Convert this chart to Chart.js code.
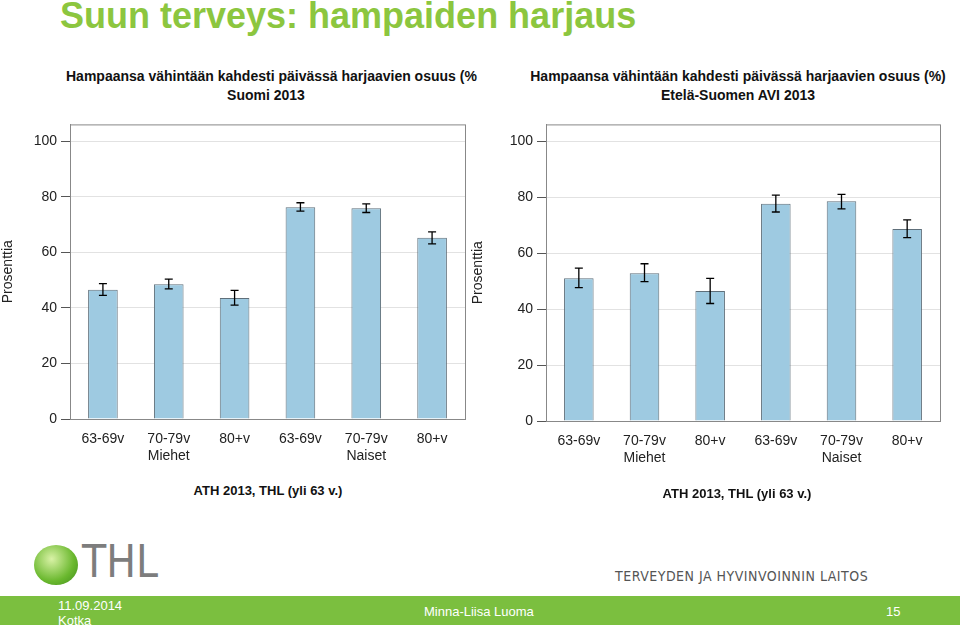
<!DOCTYPE html>
<html><head><meta charset="utf-8">
<script src="https://cdn.jsdelivr.net/npm/chart.js@4/dist/chart.umd.min.js"></script>
<style>
body{margin:0;width:960px;height:625px;overflow:hidden;background:#fff;font-family:"Liberation Sans",Arial,sans-serif;position:relative}
#title{position:absolute;left:60px;top:-5px;font-size:36px;font-weight:bold;color:#8cc63f;line-height:42px}
.c{position:absolute}
.t{position:absolute;font-size:14px;font-weight:bold;text-align:center;line-height:19px;white-space:nowrap;color:#111}
.s{position:absolute;font-size:13px;font-weight:bold;text-align:center;white-space:nowrap;color:#111}
#footer{position:absolute;left:0;top:596px;width:960px;height:29px;background:#7bbf3f;color:#fff;font-size:13px}
</style></head><body>
<div id="title">Suun terveys: hampaiden harjaus</div>
<div class="t" style="left:66px;width:400px;top:67px">Hampaansa vähintään kahdesti päivässä harjaavien osuus (%<br>Suomi 2013</div>
<div class="t" style="left:520px;width:436px;top:67px">Hampaansa vähintään kahdesti päivässä harjaavien osuus (%)<br>Etelä-Suomen AVI 2013</div>
<div class="c" style="left:0;top:112px;width:475px;height:367px"><canvas id="c1"></canvas></div>
<div class="c" style="left:470px;top:112px;width:480px;height:369px"><canvas id="c2"></canvas></div>
<div class="s" style="left:168px;width:200px;top:483px">ATH 2013, THL (yli 63 v.)</div>
<div class="s" style="left:637px;width:200px;top:486px">ATH 2013, THL (yli 63 v.)</div>
<div style="position:absolute;left:34px;top:545px;width:44px;height:40px;border-radius:50%;background:radial-gradient(circle at 40% 35%,#d9f2a6,#6ab82e 60%,#3d8a1a)"></div>
<div style="position:absolute;left:82px;top:536px;font-size:44px;color:#7d7d7d;font-family:'DejaVu Sans Condensed','Liberation Sans Narrow',sans-serif">THL</div>
<div style="position:absolute;left:615px;top:568px;font-size:14px;color:#555;letter-spacing:0.5px;font-family:'DejaVu Sans Condensed',sans-serif">TERVEYDEN JA HYVINVOINNIN LAITOS</div>
<div id="footer">
<div style="position:absolute;left:58px;top:2px;line-height:15px">11.09.2014<br>Kotka</div>
<div style="position:absolute;left:424px;top:8px">Minna-Liisa Luoma</div>
<div style="position:absolute;left:886px;top:8px">15</div>
</div>
<script>
const labels = [['63-69v',''],['70-79v','Miehet'],['80+v',''],['63-69v',''],['70-79v','Naiset'],['80+v','']];
const yTicks = [0, 20, 40, 60, 80, 100];
const suomiValues = [46.5, 48.5, 43.5, 76.2, 75.8, 65.2];
const suomiLow = [44.5, 46.8, 41.0, 74.8, 74.3, 63.0];
const suomiHigh = [48.7, 50.3, 46.3, 77.8, 77.4, 67.3];
const avcValues = [51.0, 52.8, 46.5, 77.6, 78.5, 68.6];
const avcLow = [47.7, 49.8, 42.0, 74.7, 75.8, 65.5];
const avcHigh = [54.6, 56.2, 51.0, 80.7, 81.0, 71.9];

const errorBars = {
  id: 'errorBars',
  afterDatasetsDraw(chart, args, opts) {
    const ctx = chart.ctx, y = chart.scales.y;
    const meta = chart.getDatasetMeta(0);
    ctx.save();
    ctx.strokeStyle = '#000'; ctx.lineWidth = 1.3;
    meta.data.forEach((bar, i) => {
      const x = bar.x, lo = y.getPixelForValue(opts.low[i]), hi = y.getPixelForValue(opts.high[i]);
      ctx.beginPath();
      ctx.moveTo(x, lo); ctx.lineTo(x, hi);
      ctx.moveTo(x - 4, lo); ctx.lineTo(x + 4, lo);
      ctx.moveTo(x - 4, hi); ctx.lineTo(x + 4, hi);
      ctx.stroke();
    });
    ctx.restore();
  }
};
const frame = {
  id: 'frame',
  afterDraw(chart) {
    const a = chart.chartArea, ctx = chart.ctx;
    ctx.save(); ctx.strokeStyle = '#888'; ctx.lineWidth = 1;
    ctx.strokeRect(a.left + 0.5, a.top + 0.5, a.right - a.left, a.bottom - a.top);
    ctx.restore();
  }
};

function makeChart(id, values, low, high, axisW) {
  new Chart(document.getElementById(id), {
    type: 'bar',
    data: { labels, datasets: [{ data: values, backgroundColor: '#9ecae1', borderColor: '#5f6f7a', borderWidth: 1, categoryPercentage: 0.9, barPercentage: 0.5 }] },
    options: {
      responsive: true, maintainAspectRatio: false, animation: false,
      layout: { padding: { right: 10, left: 0, bottom: 0, top: 10 } },
      plugins: { legend: { display: false }, tooltip: { enabled: false }, errorBars: { low, high } },
      scales: {
        x: { grid: { display: false, drawTicks: false }, border: { color: '#888' },
             afterFit(s) { s.height = 60; },
             ticks: { color: '#222', font: { size: 14 }, padding: 12 } },
        y: { min: 0, max: 106, grid: { color: '#e2e2e2', tickColor: '#555', tickLength: 9 }, border: { color: '#888' },
             afterBuildTicks(s) { s.ticks = yTicks.map(v => ({ value: v })); },
             afterFit(s) { s.width = axisW; },
             ticks: { color: '#222', font: { size: 14 }, padding: 4 },
             title: { display: true, text: 'Prosenttia', color: '#222', font: { size: 14 }, padding: 0 } }
      }
    },
    plugins: [errorBars, frame]
  });
}
makeChart('c1', suomiValues, suomiLow, suomiHigh, 70);
makeChart('c2', avcValues, avcLow, avcHigh, 76);
</script>
</body></html>
